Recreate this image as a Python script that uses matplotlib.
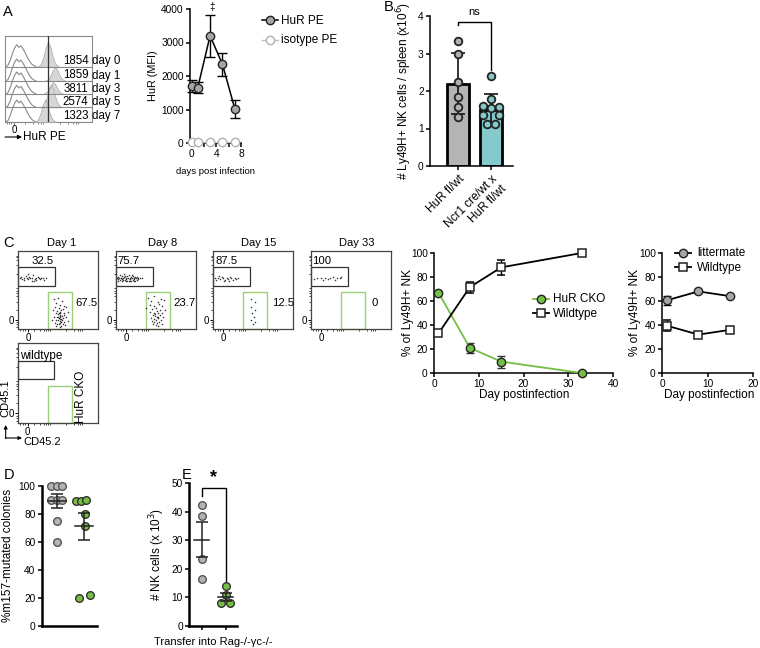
import matplotlib
matplotlib.use("Agg")
import matplotlib.pyplot as plt
from matplotlib.patches import Rectangle
import numpy as np

plt.rcParams['font.family'] = ['Liberation Sans', 'DejaVu Sans']
plt.rcParams['axes.linewidth'] = 1.1
plt.rcParams['xtick.major.width'] = 1.1
plt.rcParams['ytick.major.width'] = 1.1
plt.rcParams['xtick.major.size'] = 3
plt.rcParams['ytick.major.size'] = 3
plt.rcParams['xtick.labelsize'] = 7.3
plt.rcParams['ytick.labelsize'] = 7.3
plt.rcParams['xtick.major.pad'] = 1.5
plt.rcParams['ytick.major.pad'] = 1.5

# ---------------- DATA ----------------
# Panel A histogram rows
hist_labels = ["1854 day 0", "1859 day 1", "3811 day 3", "2574 day 5", "1323 day 7"]
iso_mode = [15, 15, 15, 15, 15]
hur_mode = [43, 50, 48, 46, 40]
hur_height = [25, 14, 12, 22, 22]
iso_profile = [0, 0.08, 0.3, 0.6, 0.85, 1.0, 0.88, 0.95, 0.8, 0.62, 0.42, 0.25, 0.12, 0.05, 0]
hur_profile = [0, 0.04, 0.15, 0.42, 0.78, 1.0, 0.82, 0.45, 0.18, 0.06, 0]

# Panel A line chart
days_A = [0, 1, 3, 5, 7]
hur_mfi = [1700, 1650, 3200, 2350, 1020]
hur_err = [170, 170, 620, 350, 270]
iso_mfi = [40, 40, 40, 40, 40]

# Panel B
b_groups = ["HuR fl/wt", "Ncr1 cre/wt x\nHuR fl/wt"]
b_mean = [2.2, 1.5]
b_sd = [0.82, 0.41]
b_pts_g1 = [3.33, 3.0, 2.23, 1.85, 1.58, 1.3]
b_jit_g1 = [0, 0, 0, 0, 0, 0]
b_pts_g2 = [2.4, 1.78, 1.6, 1.55, 1.58, 1.37, 1.37, 1.12, 1.12]
b_jit_g2 = [0, 0, -0.25, 0, 0.25, -0.25, 0.25, -0.12, 0.12]

# Panel C dot plots
dot_titles = ["Day 1", "Day 8", "Day 15", "Day 33"]
gate_top_pct = ["32.5", "75.7", "87.5", "100"]
gate_bot_pct = ["67.5", "23.7", "12.5", "0"]
d1_top = [(2,65),(4,67),(5,64),(7,66),(8,63),(10,68),(11,65),(13,64),(14,67),(15,66),(17,62),(18,65),
          (19,69),(21,64),(22,66),(23,63),(25,67),(26,65),(28,64),(29,66),(31,65),(33,63),(35,66),(12,70),(20,61)]
d1_bot = [(45,38),(50,40),(55,36),(48,33),(53,31),(58,30),(46,28),(51,27),(56,26),(60,28),(44,24),(49,23),
          (52,22),(54,24),(57,21),(62,22),(47,20),(50,19),(52,18),(53,20),(55,17),(58,18),(45,16),(49,15),
          (51,14),(53,15),(54,13),(56,14),(60,15),(43,12),(48,11),(50,12),(52,10),(55,11),(57,9),(62,10),
          (46,8),(49,7),(51,6),(53,8),(56,6),(59,5),(47,4),(52,3),(54,4),(50,16),(52,13),(53,17),(51,21),(54,9)]
d8_top = [(1,66),(2,64),(3,67),(4,65),(5,63),(6,66),(7,68),(8,64),(9,65),(10,67),(11,63),(12,66),(13,64),
          (14,68),(15,65),(16,62),(17,66),(18,64),(19,67),(20,65),(21,63),(22,66),(23,64),(24,67),(25,65),
          (26,63),(27,66),(28,64),(30,65),(32,66),(3,62),(5,69),(8,61),(10,70),(12,62),(14,61),(16,69),
          (18,61),(20,69),(22,62),(24,61),(6,65),(9,63),(11,68),(13,66),(17,64),(19,62),(21,68),(23,66),(26,67)]
d8_bot = [(40,40),(48,42),(56,39),(44,36),(52,35),(60,37),(42,31),(47,30),(54,32),(58,29),(38,27),(45,26),
          (50,27),(55,25),(61,24),(43,22),(48,21),(51,23),(53,20),(57,21),(46,18),(49,17),(52,16),(55,18),
          (59,15),(44,14),(47,13),(50,12),(53,14),(56,11),(45,10),(48,9),(51,8),(54,9),(58,7),(46,6),(50,5),
          (52,4),(49,19),(51,15)]
d15_top = [(2,65),(4,63),(6,66),(9,64),(11,67),(13,65),(15,63),(17,66),(19,64),(21,67),(23,65),(25,63),
           (27,66),(29,64),(31,66),(8,68),(14,62),(20,62)]
d15_bot = [(48,38),(52,35),(47,28),(53,25),(49,20),(51,16),(48,12),(52,9),(50,6)]
d33_top = [(4,64),(8,66),(12,65),(15,63),(18,66),(21,64),(24,65),(27,67),(30,63),(33,66),(36,65),(38,67)]
d33_bot = []
dot_data = [(d1_top, d1_bot), (d8_top, d8_bot), (d15_top, d15_bot), (d33_top, d33_bot)]

# Panel C line charts
days_C = [1, 8, 15, 33]
cko_pct = [67, 21, 9.5, 0]
cko_err = [1.5, 4, 5, 0.5]
wt_pct = [33, 71.5, 88, 100]
wt_err = [1.5, 4.5, 6, 0.5]
days_C2 = [1, 8, 15]
litter_pct = [60.5, 68, 64]
litter_err = [4, 1, 1]
wt2_pct = [39.5, 32, 36]
wt2_err = [4.5, 1, 1]

# Panel D
d_grey = [100, 100, 100, 90, 90, 90, 75, 60]
d_grey_jit = [-0.22, 0, 0.2, -0.2, 0, 0.2, 0, 0]
d_green = [89, 89, 90, 80, 71, 20, 22]
d_green_jit = [-0.3, -0.12, 0.05, 0.02, 0.02, -0.18, 0.2]
d_mean = [89, 71]
d_sem = [5, 9.5]

# Panel E
e_grey = [42.5, 38.5, 23.5, 16.5]
e_green = [14, 11, 8, 8]
e_green_jit = [0, 0, -0.2, 0.18]
e_mean = [30.3, 10.1]
e_sem = [6, 1.4]

# ---------------- FIGURE ----------------
W, H = 760, 648
fig = plt.figure(figsize=(W / 100, H / 100), dpi=100)

def add_ax(x0, y0, x1, y1):
    return fig.add_axes([x0 / W, 1 - y1 / H, (x1 - x0) / W, (y1 - y0) / H])

GREY = '#b4b4b4'
GREEN = '#74bf44'
TEAL = '#84c9cc'
FS = 8.5
MS = 6

def clean(ax):
    ax.spines['top'].set_visible(False)
    ax.spines['right'].set_visible(False)

# ---- Panel A histograms ----
axh = add_ax(5, 36, 92, 122)
axh.set_xlim(0, 87)
axh.set_ylim(0, 86)
baselines = [55.3, 41, 28, 14.7, 0]
for i in range(5):
    b = baselines[i]
    xi = np.linspace(iso_mode[i] - 14, iso_mode[i] + 16, len(iso_profile))
    axh.plot(xi, b + 22 * np.array(iso_profile), color='#8a8a8a', lw=0.8, zorder=2 + i)
    xh = np.linspace(hur_mode[i] - 11, hur_mode[i] + 11, len(hur_profile))
    axh.fill_between(xh, b, b + hur_height[i] * np.array(hur_profile), color='#d6d6d6',
                     edgecolor='#a8a8a8', lw=0.5, zorder=2 + i)
    axh.axhline(b, color='#8a8a8a', lw=0.8, zorder=8)
axh.axvline(43, color='#333333', lw=0.9, zorder=9)
for s in axh.spines.values():
    s.set_color('#8a8a8a')
    s.set_linewidth(0.8)
axh.set_yticks([])
axh.set_xticks([9], ['0'], fontsize=7)
axh.set_xticks([2, 4, 6, 20, 28, 33, 36, 38, 55, 63, 68, 71, 73], minor=True)
axh.tick_params(axis='x', which='major', length=2, width=0.6, pad=0.5, color='#555')
axh.tick_params(axis='x', which='minor', length=1.5, width=0.5, color='#555')

# ---- Panel A line chart ----
axa = add_ax(190, 9, 241, 143)
axa.errorbar(days_A, hur_mfi, yerr=hur_err, color='black', lw=1.1, capsize=3.5,
             elinewidth=1.0, capthick=1.0, marker='o', ms=MS, mfc='#a6a6a6', mec='#222222',
             mew=1.0, zorder=3, clip_on=False)
axa.plot(days_A, iso_mfi, color='#c0c0c0', lw=1.0, marker='o', ms=MS, mfc='white',
         mec='#b0b0b0', mew=1.0, zorder=4, clip_on=False)
axa.set_xlim(-0.25, 8)
axa.set_ylim(0, 4000)
axa.set_yticks([0, 1000, 2000, 3000, 4000])
axa.set_xticks([0, 4, 8])
axa.set_xticks([2, 6], minor=True)
axa.tick_params(axis='x', which='minor', length=3, width=1.1)
clean(axa)

# ---- Panel B ----
axb = add_ax(430, 16, 513, 166)
axb.bar([0, 1], b_mean, width=0.67, color=[GREY, TEAL], edgecolor='black', lw=2, zorder=2)
axb.errorbar([0, 1], b_mean, yerr=b_sd, fmt='none', ecolor='black', elinewidth=1.1,
             capsize=5, capthick=1.1, zorder=3)
axb.plot(np.array(b_jit_g1) + 0, b_pts_g1, 'o', ms=5.5, mfc='#b0b0b0', mec='#222', mew=1.3, zorder=4)
axb.plot(np.array(b_jit_g2) + 1, b_pts_g2, 'o', ms=5.5, mfc=TEAL, mec='#222', mew=1.3, zorder=4)
axb.set_xlim(-0.85, 1.67)
axb.set_ylim(0, 4)
axb.set_yticks([0, 1, 2, 3, 4])
axb.set_xticks([0, 1], b_groups, rotation=45, ha='right', rotation_mode='anchor', fontsize=8.5)
axb.tick_params(axis='x', pad=2)
axb.set_ylabel('# Ly49H+ NK cells / spleen (x10$^6$)', fontsize=8.5, labelpad=3)
clean(axb)
axb.plot([0, 0, 1, 1], [3.75, 3.85, 3.85, 2.55], color='black', lw=1.0, clip_on=False)

# ---- Panel C dot plots ----
dot_x0 = [18, 116, 213, 311]
top_lbl_x = [43, 129, 227, 322]
bot_lbl_x = [75, 173, 272, 371]
for k in range(4):
    x0 = dot_x0[k]
    ax = add_ax(x0, 251, x0 + 80, 329)
    ax.set_xlim(0, 100)
    ax.set_ylim(0, 100)
    ax.add_patch(Rectangle((0, 55), 46, 24, fill=False, ec='#333', lw=0.9, clip_on=False))
    ax.add_patch(Rectangle((37.5, 0), 30, 47.4, fill=False, ec='#9ccf7a', lw=1.0, clip_on=False))
    top, bot = dot_data[k]
    if top:
        ax.plot([p[0] for p in top], [p[1] for p in top], 'o', ms=1.1, color='#333', mew=0)
    if bot:
        ax.plot([p[0] for p in bot], [p[1] for p in bot], 'o', ms=1.1, color='#333', mew=0)
    for s in ax.spines.values():
        s.set_linewidth(0.9)
        s.set_color('#444')
    ax.set_xticks([13], ['0'], fontsize=7)
    ax.set_yticks([11.5], ['0'], fontsize=7)
    ax.set_xticks([3, 6, 9, 20, 27, 32, 35, 37, 40, 60, 70, 75, 78, 80], minor=True)
    ax.set_yticks([3, 6, 9, 25, 35, 42, 46, 49, 52, 70, 82, 88, 92, 94], minor=True)
    ax.tick_params(which='major', length=2, width=0.7, pad=1)
    ax.tick_params(which='minor', length=1.2, width=0.5)

# legend box for dot plots
axl = add_ax(18, 343, 98, 423)
axl.set_xlim(0, 100)
axl.set_ylim(0, 100)
axl.add_patch(Rectangle((0, 54.6), 45, 23.3, fill=False, ec='#333', lw=0.9, clip_on=False))
axl.add_patch(Rectangle((37, 0), 31, 46.3, fill=False, ec='#9ccf7a', lw=1.0, clip_on=False))
for s in axl.spines.values():
    s.set_linewidth(0.9)
    s.set_color('#444')
axl.set_xticks([12], ['0'], fontsize=7)
axl.set_yticks([12.5], ['0'], fontsize=7)
axl.set_xticks([3, 6, 9, 20, 27, 32, 35, 37, 40, 60, 70, 75, 78, 80], minor=True)
axl.set_yticks([3, 6, 9, 25, 35, 42, 46, 49, 52, 70, 82, 88, 92, 94], minor=True)
axl.tick_params(which='major', length=2, width=0.7, pad=1)
axl.tick_params(which='minor', length=1.2, width=0.5)

# ---- Panel C line chart 1 ----
axc = add_ax(434, 253, 613, 373)
axc.errorbar(days_C, cko_pct, yerr=cko_err, color=GREEN, lw=1.3, ecolor='#333', elinewidth=1.0,
             capsize=3, capthick=1.0, marker='o', ms=MS, mfc=GREEN, mec='#222', mew=1.0,
             zorder=3, clip_on=False)
axc.errorbar(days_C, wt_pct, yerr=wt_err, color='black', lw=1.3, elinewidth=1.0,
             capsize=3, capthick=1.0, marker='s', ms=MS, mfc='white', mec='#222', mew=1.1,
             zorder=4, clip_on=False)
axc.set_xlim(0, 40)
axc.set_ylim(0, 100)
axc.set_xticks([0, 10, 20, 30, 40])
axc.set_yticks([0, 20, 40, 60, 80, 100])
clean(axc)

# ---- Panel C line chart 2 ----
axc2 = add_ax(662, 253, 753, 373)
axc2.errorbar(days_C2, litter_pct, yerr=litter_err, color='black', lw=1.3, elinewidth=1.0,
              capsize=3, capthick=1.0, marker='o', ms=MS, mfc='#a6a6a6', mec='#222', mew=1.0,
              zorder=3, clip_on=False)
axc2.errorbar(days_C2, wt2_pct, yerr=wt2_err, color='black', lw=1.3, elinewidth=1.0,
              capsize=3, capthick=1.0, marker='s', ms=MS, mfc='white', mec='#222', mew=1.1,
              zorder=4, clip_on=False)
axc2.set_xlim(0, 20)
axc2.set_ylim(0, 100)
axc2.set_xticks([0, 10, 20])
axc2.set_yticks([0, 20, 40, 60, 80, 100])
clean(axc2)

# ---- Panel D ----
axd = add_ax(41.7, 485.7, 97.3, 626)
axd.plot(np.array(d_grey_jit) + 0, d_grey, 'o', ms=5.5, mfc='#b4b4b4', mec='#555', mew=1.0,
         zorder=3, clip_on=False)
axd.plot(np.array(d_green_jit) + 1, d_green, 'o', ms=5.5, mfc=GREEN, mec='#333', mew=1.0,
         zorder=3, clip_on=False)
for i in range(2):
    axd.plot([i - 0.33, i + 0.33], [d_mean[i], d_mean[i]], color='#222', lw=1.1, zorder=4)
    axd.errorbar([i], [d_mean[i]], yerr=[d_sem[i]], fmt='none', ecolor='#222', elinewidth=1.1,
                 capsize=4, capthick=1.1, zorder=4)
axd.set_xlim(-0.545, 1.476)
axd.set_ylim(0, 100)
axd.set_yticks([0, 20, 40, 60, 80, 100])
axd.set_xticks([])
axd.spines['left'].set_linewidth(1.8)
axd.spines['bottom'].set_linewidth(1.8)
axd.set_ylabel('%m157-mutated colonies', fontsize=8.5, labelpad=3)
clean(axd)

# ---- Panel E ----
axe = add_ax(189, 483.3, 237.3, 626)
axe.plot([0] * len(e_grey), e_grey, 'o', ms=5.5, mfc='#b4b4b4', mec='#555', mew=1.0, zorder=3)
axe.plot(np.array(e_green_jit) + 1, e_green, 'o', ms=5.5, mfc=GREEN, mec='#333', mew=1.0, zorder=3)
for i in range(2):
    axe.plot([i - 0.32, i + 0.32], [e_mean[i], e_mean[i]], color='#222', lw=1.1, zorder=4)
    axe.errorbar([i], [e_mean[i]], yerr=[e_sem[i]], fmt='none', ecolor='#222', elinewidth=1.1,
                 capsize=4, capthick=1.1, zorder=4)
axe.set_xlim(-0.53, 1.48)
axe.set_ylim(0, 50)
axe.set_yticks([0, 10, 20, 30, 40, 50])
axe.set_xticks([0, 1], ['', ''])
axe.spines['left'].set_linewidth(1.8)
axe.spines['bottom'].set_linewidth(1.8)
axe.set_ylabel('# NK cells (x 10$^3$)', fontsize=8.5, labelpad=3)
clean(axe)
axe.plot([0, 0, 1, 1], [45.5, 48.3, 48.3, 15.5], color='black', lw=1.0, clip_on=False)

# ---------------- OVERLAY (pixel coordinates) ----------------
ov = fig.add_axes([0, 0, 1, 1])
ov.set_xlim(0, W)
ov.set_ylim(H, 0)
ov.axis('off')
ov.set_zorder(10)

def t(x, y, s, **kw):
    kw.setdefault('fontsize', FS)
    kw.setdefault('va', 'center')
    ov.text(x, y, s, **kw)

# panel letters
for lx, ly, s in [(3, 12, 'A'), (384, 7, 'B'), (3, 243, 'C'), (4, 475, 'D'), (182, 475, 'E')]:
    t(lx, ly, s, fontsize=10.5, ha='left')

# Panel A texts
hist_text_y = [61, 75.5, 89, 102, 116]
for i, lab in enumerate(hist_labels):
    num, day = lab.split(' ', 1)
    t(88.5, hist_text_y[i], num, ha='right', fontsize=8.3)
    t(92.5, hist_text_y[i], day, ha='left', fontsize=8.3)
ov.annotate('', xy=(22, 137), xytext=(5, 137),
            arrowprops=dict(arrowstyle='-|>', lw=0.8, color='black', mutation_scale=6,
                            shrinkA=0, shrinkB=0))
t(23, 137.5, 'HuR PE', ha='left', fontsize=8.5)
t(153, 76, 'HuR (MFI)', rotation=90, ha='center', fontsize=7.8)
t(216, 172, 'days post infection', ha='center', fontsize=6.8)
t(212, 7, '‡', ha='center', fontsize=7)
# Panel A legend
ov.plot([262, 278], [20, 20], color='black', lw=1.1)
ov.plot([270], [20], 'o', ms=MS, mfc='#a6a6a6', mec='#222', mew=1.0)
t(281, 20.5, 'HuR PE', ha='left')
ov.plot([262, 278], [40, 40], color='#c0c0c0', lw=1.0)
ov.plot([270], [40], 'o', ms=MS, mfc='white', mec='#b0b0b0', mew=1.0)
t(281, 40.5, 'isotype PE', ha='left')

# Panel B
t(474, 12, 'ns', ha='center', fontsize=8)

# Panel C dot plots texts
title_x = [62, 163, 259, 357]
for k in range(4):
    t(title_x[k], 243, dot_titles[k], ha='center', fontsize=8)
    t(top_lbl_x[k], 261, gate_top_pct[k], ha='center', fontsize=8.2)
    t(bot_lbl_x[k], 303.5, gate_bot_pct[k], ha='left', fontsize=8.2)
t(20, 356, 'wildtype', ha='left', fontsize=8.5)
t(81, 397, 'HuR CKO', rotation=90, ha='center', fontsize=8.5)
ov.annotate('', xy=(5.7, 425), xytext=(5.7, 438.5),
            arrowprops=dict(arrowstyle='-|>', lw=0.8, color='black', mutation_scale=5,
                            shrinkA=0, shrinkB=0))
ov.annotate('', xy=(22, 438), xytext=(5.3, 438),
            arrowprops=dict(arrowstyle='-|>', lw=0.8, color='black', mutation_scale=5,
                            shrinkA=0, shrinkB=0))
t(5, 398, 'CD45.1', rotation=90, ha='center', fontsize=8)
t(23, 442, 'CD45.2', ha='left', fontsize=8)

# Panel C line chart texts
t(408, 313, '% of Ly49H+ NK', rotation=90, ha='center')
t(524, 395, 'Day postinfection', ha='center')
t(635, 313, '% of Ly49H+ NK', rotation=90, ha='center')
t(709, 395, 'Day postinfection', ha='center')
ov.plot([533, 549], [299, 299], color=GREEN, lw=1.3)
ov.plot([541], [299], 'o', ms=MS, mfc=GREEN, mec='#222', mew=1.0)
t(553, 299.5, 'HuR CKO', ha='left')
ov.plot([533, 549], [313, 313], color='black', lw=1.3)
ov.plot([541], [313], 's', ms=MS, mfc='white', mec='#222', mew=1.1)
t(553, 313.5, 'Wildtype', ha='left')
ov.plot([675, 691], [253, 253], color='black', lw=1.3)
ov.plot([683], [253], 'o', ms=MS, mfc='#a6a6a6', mec='#222', mew=1.0)
t(697, 253.5, 'littermate', ha='left')
ov.plot([675, 691], [267, 267], color='black', lw=1.3)
ov.plot([683], [267], 's', ms=MS, mfc='white', mec='#222', mew=1.1)
t(697, 267.5, 'Wildtype', ha='left')

# Panel E texts
t(213, 478, '*', ha='center', fontsize=13, fontweight='bold')
t(213, 642, 'Transfer into Rag-/-γc-/-', ha='center', fontsize=8)

fig.savefig('out.png', dpi=100)
